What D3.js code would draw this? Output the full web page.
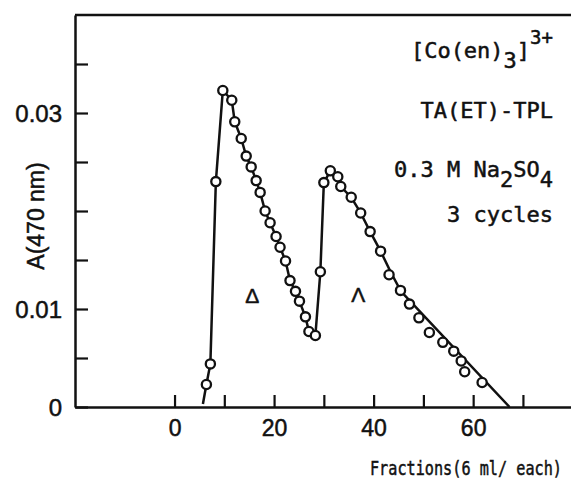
<!DOCTYPE html>
<html>
<head>
<meta charset="utf-8">
<script src="https://cdn.jsdelivr.net/npm/d3@7"></script>
<style>
  body { margin: 0; background: #fff; }
  svg { display: block; }
  svg text { stroke: #111; stroke-width: 0.5px; }
</style>
</head>
<body>
<div id="chart"></div>
<script>
// Elution profile: fraction number vs absorbance at 470 nm (open circles)
const fractions = [6.4, 7.2, 8.3, 9.7, 11.5, 12.1, 13.4, 14.4, 15.4, 16.4, 17.2, 18.2, 19.2, 20.4,
    21.2, 22.3, 23.2, 24.3, 25.1, 26.3, 27.0, 28.3, 29.3, 30.0, 31.3, 32.8, 33.4, 35.5, 37.4, 39.3,
    41.4, 43.1, 45.4, 47.2, 49.1, 51.2, 53.9, 56.1, 57.6, 58.3, 61.8];
const absorbance = [0.0023, 0.0044, 0.0230, 0.0323, 0.0313, 0.0291, 0.0274, 0.0256, 0.0245, 0.0231,
    0.0219, 0.0200, 0.0188, 0.0174, 0.0163, 0.0149, 0.0129, 0.0118, 0.0108, 0.0092, 0.0077, 0.0073,
    0.0138, 0.0229, 0.0241, 0.0235, 0.0225, 0.0214, 0.0198, 0.0179, 0.0159, 0.0135, 0.0119, 0.0105,
    0.0091, 0.0076, 0.0066, 0.0057, 0.0047, 0.0036, 0.0025];

// Hand-drawn solid line through the profile
const lineFractions = [5.7, 6.4, 7.2, 8.3, 9.7, 11.5, 12.1, 13.4, 14.4, 15.4, 16.4, 17.2, 18.2, 19.2,
    20.4, 21.2, 22.3, 23.2, 24.3, 25.1, 26.3, 27.0, 28.3, 29.3, 30.0, 31.3, 32.8, 33.4, 35.5, 37.4,
    39.3, 41.4, 43.5, 45.5, 67.3];
const lineAbsorbance = [0.0003, 0.0023, 0.0044, 0.0230, 0.0323, 0.0313, 0.0291, 0.0274, 0.0256,
    0.0245, 0.0231, 0.0219, 0.0200, 0.0188, 0.0174, 0.0163, 0.0149, 0.0129, 0.0118, 0.0108, 0.0092,
    0.0077, 0.0073, 0.0138, 0.0229, 0.0241, 0.0235, 0.0225, 0.0214, 0.0198, 0.0179, 0.0159, 0.0137,
    0.0118, 0];

const xTicks = [0, 10, 20, 30, 40, 50, 60, 70];
const xTickLabels = [0, 20, 40, 60];
const yTicks = [0, 0.005, 0.01, 0.015, 0.02, 0.025, 0.03, 0.035];
const yTickLabels = { 0: "0", 0.01: "0.01", 0.03: "0.03" };

const isomerNames = ["\u0394", "\u039B"];
const isomerFractions = [15.6, 36.9];
const isomerAbsorbance = [0.0106, 0.0107];

const width = 571, height = 488;
const sans = '"Liberation Sans", Arial, sans-serif';
const mono = '"DejaVu Sans Mono", monospace';

const svg = d3.select("#chart").append("svg")
    .attr("width", width)
    .attr("height", height);

const x = d3.scaleLinear().domain([-20, 80]).range([75, 572.7]);
const y = d3.scaleLinear().domain([0, 0.04]).range([407, 15]);

// Axes (ticks point inward)
const xAxis = svg.append("g")
    .attr("transform", `translate(0,${y(0)})`)
    .call(d3.axisBottom(x)
        .tickValues(xTicks)
        .tickSizeInner(-12)
        .tickSizeOuter(0)
        .tickPadding(13)
        .tickFormat(d => xTickLabels.includes(d) ? d : ""));

const yAxis = svg.append("g")
    .attr("transform", `translate(${x(-20)},0)`)
    .call(d3.axisLeft(y)
        .tickValues(yTicks)
        .tickSizeInner(-13)
        .tickSizeOuter(0)
        .tickPadding(13)
        .tickFormat(d => yTickLabels[d] || ""));

[xAxis, yAxis].forEach(g => {
    g.select(".domain").attr("stroke", "#111").attr("stroke-width", 2.5);
    g.selectAll(".tick line").attr("stroke", "#111").attr("stroke-width", 2.2);
    g.selectAll(".tick text")
        .attr("fill", "#111")
        .style("font-family", sans)
        .style("font-size", "23px");
});
yAxis.selectAll(".tick text").attr("dy", "0.36em").style("font-size", "24px");

// top frame line
svg.append("line")
    .attr("x1", x(-20)).attr("x2", width)
    .attr("y1", y(0.04)).attr("y2", y(0.04))
    .attr("stroke", "#111")
    .attr("stroke-width", 2.5);

// profile line
const linePts = lineFractions.map((f, i) => [f, lineAbsorbance[i]]);
svg.append("path")
    .datum(linePts)
    .attr("d", d3.line().x(d => x(d[0])).y(d => y(d[1])))
    .attr("fill", "none")
    .attr("stroke", "#111")
    .attr("stroke-width", 2.5)
    .attr("stroke-linejoin", "round");

// data points
svg.append("g").selectAll("circle")
    .data(fractions.map((f, i) => [f, absorbance[i]]))
    .join("circle")
    .attr("cx", d => x(d[0]))
    .attr("cy", d => y(d[1]))
    .attr("r", 4.6)
    .attr("fill", "#fff")
    .attr("stroke", "#111")
    .attr("stroke-width", 2.3);

// isomer labels
svg.append("g").selectAll("text")
    .data(isomerNames)
    .join("text")
    .attr("x", (d, i) => x(isomerFractions[i]))
    .attr("y", (d, i) => y(isomerAbsorbance[i]))
    .attr("text-anchor", "middle")
    .style("font-family", sans)
    .style("font-size", "21px")
    .attr("fill", "#111")
    .text(d => d);

// axis titles
svg.append("text")
    .attr("transform", "translate(44,216) rotate(-90)")
    .attr("text-anchor", "middle")
    .style("font-family", sans)
    .style("font-size", "23px")
    .attr("fill", "#111")
    .text("A(470 nm)");

// narrow typewriter face: squeeze the mono font horizontally
svg.append("text")
    .attr("transform", "translate(562,475) scale(0.76,1)")
    .attr("text-anchor", "end")
    .style("font-family", mono)
    .style("font-size", "20px")
    .attr("fill", "#111")
    .text("Fractions(6 ml/ each)");

// condition notes (right aligned)
const notes = svg.append("g")
    .attr("text-anchor", "end")
    .style("font-family", mono)
    .style("font-size", "22px")
    .attr("fill", "#111");

const t1 = notes.append("text").attr("x", 553).attr("y", 58);
t1.append("tspan").text("[Co(en)");
t1.append("tspan").attr("dy", 10).text("3");
t1.append("tspan").attr("dy", -10).text("]");
t1.append("tspan").attr("dy", -14).style("font-size", "19px").text("3+");

notes.append("text").attr("x", 553).attr("y", 118).text("TA(ET)-TPL");

const t3 = notes.append("text").attr("x", 553).attr("y", 177);
t3.append("tspan").text("0.3 M Na");
t3.append("tspan").attr("dy", 10).text("2");
t3.append("tspan").attr("dy", -10).text("SO");
t3.append("tspan").attr("dy", 10).text("4");

notes.append("text").attr("x", 553).attr("y", 222).text("3 cycles");
</script>
</body>
</html>
